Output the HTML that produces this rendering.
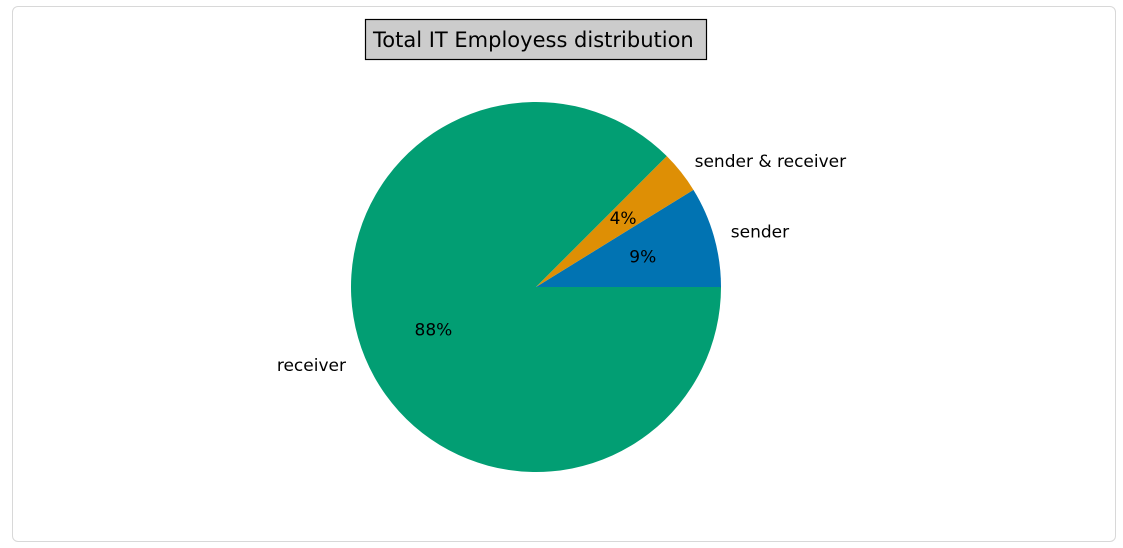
<!DOCTYPE html>
<html><head><meta charset="utf-8"><style>
body{margin:0;width:1123px;height:548px;background:#fff;font-family:"DejaVu Sans","Liberation Sans",sans-serif;}
#card{position:absolute;left:12px;top:6px;width:1102px;height:534px;border:1px solid #d8d8d8;border-radius:6px;background:#fff;}
svg{position:absolute;left:0;top:0;}
</style></head><body>
<div id="card"></div>
<svg id="chart" width="1123" height="548">
<rect x="365.5" y="19.5" width="341" height="40" fill="#cccccc" stroke="#000" stroke-width="1.2"/>
<text x="373" y="47" font-size="21" text-anchor="start" fill="#000">Total IT Employess distribution</text>
</svg>
<script>
const categories=["sender","sender & receiver","receiver"];
const values=[8.8,3.7,87.5];
const pctLabels=["9%","4%","88%"];
const colors=["#0173b2","#de8f05","#029e73"];
const svg=document.getElementById('chart');
const NS='http://www.w3.org/2000/svg';
const cx=536,cy=287,r=185;
const total=values.reduce((a,b)=>a+b,0);
let a0=0;
values.forEach((v,i)=>{
  const a1=a0+v/total*2*Math.PI;
  const x0=cx+r*Math.cos(a0),y0=cy-r*Math.sin(a0),x1=cx+r*Math.cos(a1),y1=cy-r*Math.sin(a1);
  const large=(a1-a0)>Math.PI?1:0;
  const p=document.createElementNS(NS,'path');
  p.setAttribute('d',`M${cx},${cy} L${x0},${y0} A${r},${r} 0 ${large} 0 ${x1},${y1} Z`);
  p.setAttribute('fill',colors[i]);
  
  
  svg.appendChild(p);
  const m=(a0+a1)/2;
  const lx=cx+1.1*r*Math.cos(m),ly=cy-1.1*r*Math.sin(m);
  const t=document.createElementNS(NS,'text');
  t.setAttribute('x',Math.cos(m)>=0?lx-1:lx-2);t.setAttribute('y',ly+6);
  t.setAttribute('font-size','17');
  t.setAttribute('text-anchor',Math.cos(m)>=0?'start':'end');
  t.textContent=categories[i];
  
  
  svg.appendChild(t);
  const px=cx+0.6*r*Math.cos(m),py=cy-0.6*r*Math.sin(m);
  const tp=document.createElementNS(NS,'text');
  tp.setAttribute('x',px);tp.setAttribute('y',py+6);
  tp.setAttribute('font-size','17');
  tp.setAttribute('text-anchor','middle');
  tp.textContent=pctLabels[i];
  
  
  svg.appendChild(tp);
  a0=a1;
});
</script>
</body></html>
